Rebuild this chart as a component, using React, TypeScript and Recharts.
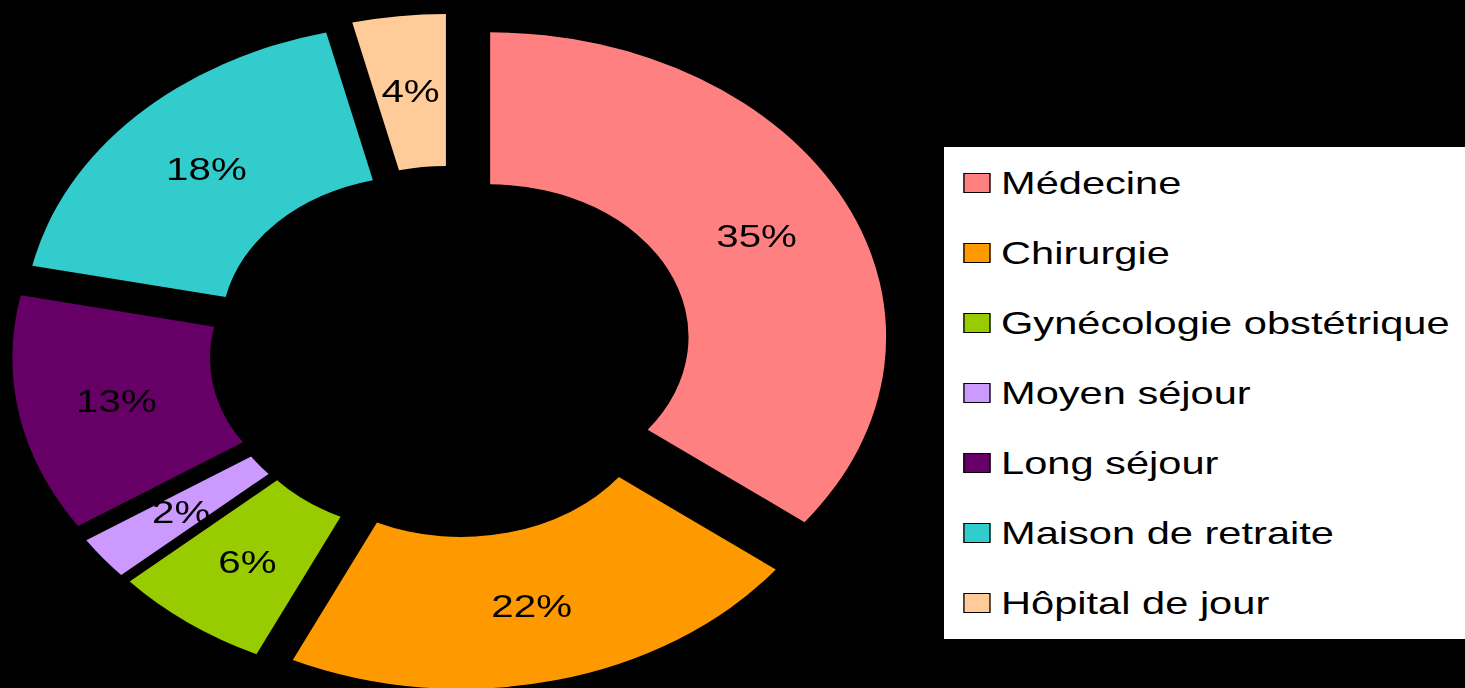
import * as React from 'react';
import {Legend, Pie, PieChart, Sector, Cell} from "recharts";

const services = ['Médecine', 'Chirurgie', 'Gynécologie obstétrique', 'Moyen séjour', 'Long séjour', 'Maison de retraite', 'Hôpital de jour'];
// shares, they round to the printed labels
const shares = [35.4, 21.6, 6.4, 2.3, 12.6, 17.9, 3.8];
const colors = ['#FF8080', '#FF9900', '#99CC00', '#CC99FF', '#660066', '#33CCCC', '#FFCC99'];

const data = services.map((name, i) => ({name, value: shares[i]}));

// the source picture is stretched sideways, so the chart is drawn narrow and scaled
const STRETCH = 1.3;
const EXPLODE = 33.5;
const RADIAN = Math.PI / 180;
const FONT = '"Liberation Sans", Arial, sans-serif';

const ExplodedSector = (props: any) => {
    const {cx, cy, midAngle} = props;
    return <Sector {...props}
                   cx={cx + EXPLODE * Math.cos(-midAngle * RADIAN)}
                   cy={cy + EXPLODE * Math.sin(-midAngle * RADIAN)}/>;
};

const renderLabel = (props: any) => {
    const {cx, cy, midAngle, innerRadius, outerRadius, percent} = props;
    const r = (innerRadius + outerRadius) / 2 + EXPLODE;
    const x = cx + r * Math.cos(-midAngle * RADIAN);
    const y = cy + r * Math.sin(-midAngle * RADIAN);
    return (
        <text x={x} y={y} fill="#000" textAnchor="middle" dominantBaseline="central"
              style={{fontFamily: FONT, fontSize: 31}}>
            {`${Math.round(percent * 100)}%`}
        </text>
    );
};

const renderLegend = () => (
    <div style={{background: '#fff', width: 420, height: 492, paddingTop: 1, boxSizing: 'border-box'}}>
        {services.map((name, i) => (
            <div key={name} style={{height: 70, display: 'flex', alignItems: 'center'}}>
                <span style={{
                    display: 'inline-block', width: 21, height: 20, marginLeft: 15, marginRight: 8,
                    background: colors[i], border: '1px solid #000', boxSizing: 'border-box'
                }}/>
                <span style={{fontFamily: FONT, fontSize: 32, color: '#000', whiteSpace: 'nowrap'}}>{name}</span>
            </div>
        ))}
    </div>
);

export default function App() {
    return (
        <div style={{position: 'absolute', left: 0, top: 0, width: 1465, height: 688, background: '#000', overflow: 'hidden'}}>
            <div style={{transform: `scaleX(${STRETCH})`, transformOrigin: '0 0', width: 1127, height: 688}}>
                <PieChart width={1127} height={688} margin={{top: 0, right: 0, left: 0, bottom: 0}}>
                    <Pie data={data} dataKey="value" nameKey="name" cx={347} cy={351.8}
                         innerRadius={152.6} outerRadius={304.6} startAngle={90} endAngle={-270}
                         stroke="none" isAnimationActive={false} labelLine={false} label={renderLabel}
                         shape={ExplodedSector}>
                        {data.map((d, i) => <Cell key={d.name} fill={colors[i]}/>)}
                    </Pie>
                    <Legend content={renderLegend} layout="vertical" align="right" verticalAlign="top"
                            wrapperStyle={{position: 'absolute', left: 726, top: 147, width: 420, height: 492, margin: 0}}/>
                </PieChart>
            </div>
        </div>
    );
}
